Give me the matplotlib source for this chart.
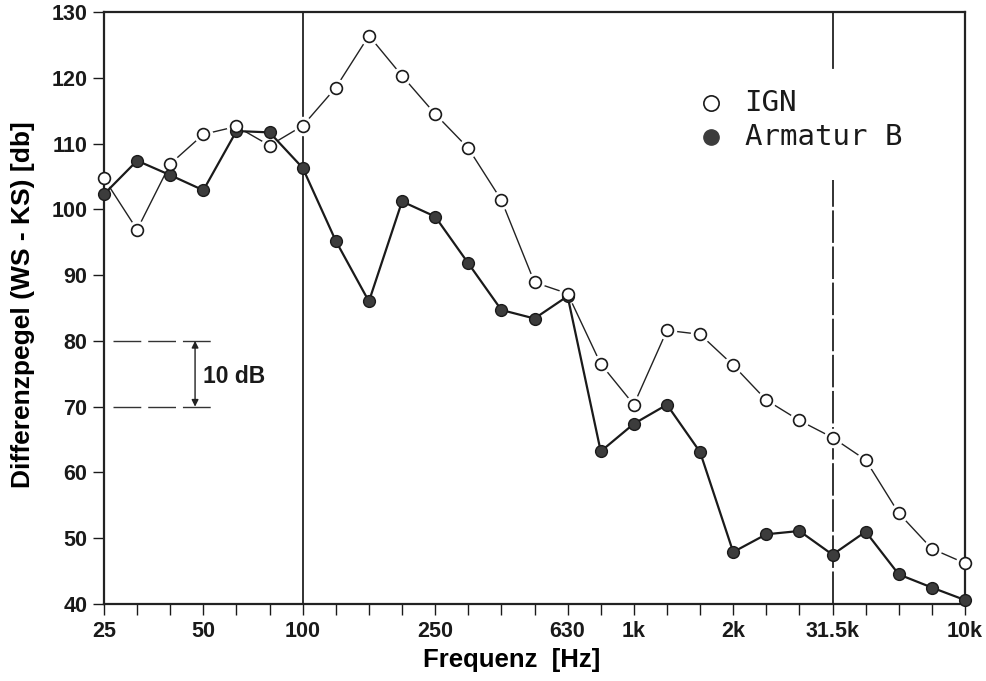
import numpy as np
import matplotlib
matplotlib.use("Agg")
import matplotlib.pyplot as plt

plt.rcParams["font.family"] = ["Liberation Sans", "DejaVu Sans"]

# third-octave bands, 25 Hz .. 10 kHz
bands = ["25", "31.5", "40", "50", "63", "80", "100", "125", "160", "200",
         "250", "315", "400", "500", "630", "800", "1k", "1.25k", "1.6k",
         "2k", "2.5k", "3.15k", "4k", "5k", "6.3k", "8k", "10k"]
ign = [104.7, 96.9, 106.9, 111.4, 112.6, 109.7, 112.7, 118.5, 126.4, 120.3,
       114.5, 109.3, 101.4, 88.9, 87.2, 76.5, 70.3, 81.6, 81.0, 76.3,
       71.0, 67.9, 65.3, 61.9, 53.8, 48.4, 46.2]
armatur = [102.3, 107.4, 105.2, 102.9, 111.9, 111.7, 106.3, 95.2, 86.0, 101.2,
           98.9, 91.8, 84.7, 83.4, 86.8, 63.2, 67.4, 70.3, 63.1, 47.9,
           50.6, 51.1, 47.5, 51.0, 44.5, 42.5, 40.6]
tick_idx = [0, 3, 6, 10, 14, 16, 19, 22, 26]
tick_lbl = ["25", "50", "100", "250", "630", "1k", "2k", "31.5k", "10k"]
y_ticks = [40, 50, 60, 70, 80, 90, 100, 110, 120, 130]

x = np.arange(len(bands))

fig = plt.figure(figsize=(9.86, 6.81), dpi=100)
ax = fig.add_axes([104/986, 1-604/681, 861/986, 592/681])

# reference lines
ax.axvline(6, color="#222", lw=1.3, zorder=1)
ax.plot([22, 22], [121.5, 130], color="#222", lw=1.3, zorder=1)
ax.plot([22, 22], [40, 104.5], color="#222", lw=1.3, dashes=(18, 2), zorder=1)

# IGN series (open circles, line stops short of the markers)
ax.plot(x, ign, color="#222", lw=1.0, zorder=2, clip_on=False)
ax.plot(x, ign, ls="none", marker="o", ms=13, mfc="white", mec="white",
        zorder=2.5, clip_on=False)
# Armatur B (filled)
ax.plot(x, armatur, color="#1a1a1a", lw=1.6, marker="o", ms=8.5,
        mfc="#3c3c3c", mec="#1a1a1a", mew=1.0, zorder=3, clip_on=False)
ax.plot(x, ign, ls="none", marker="o", ms=8.5, mfc="white", mec="#1a1a1a",
        mew=1.2, zorder=4, clip_on=False)

# 10 dB scale marker
for lvl in (80, 70):
    ax.plot([0.27, 3.23], [lvl, lvl], color="#333", lw=1.0, dashes=(20, 5))
ax.annotate("", xy=(2.75, 80), xytext=(2.75, 70),
            arrowprops=dict(arrowstyle="<|-|>", color="#222", lw=1.0,
                            mutation_scale=10, shrinkA=0, shrinkB=0))
ax.text(2.98, 74.6, "10 dB", fontsize=16.5, fontweight="bold", va="center",
        ha="left", color="#1a1a1a")

# legend
ax.plot([0.705], [0.846], transform=ax.transAxes, marker="o", ms=11,
        mfc="white", mec="#1a1a1a", mew=1.2, clip_on=False)
ax.plot([0.705], [0.789], transform=ax.transAxes, marker="o", ms=11,
        mfc="#3c3c3c", mec="#3c3c3c", clip_on=False)
ax.text(0.744, 0.846, "IGN", transform=ax.transAxes, fontsize=21,
        family="DejaVu Sans Mono", va="center", ha="left", color="#1a1a1a")
ax.text(0.744, 0.789, "Armatur B", transform=ax.transAxes, fontsize=21,
        family="DejaVu Sans Mono", va="center", ha="left", color="#1a1a1a")

ax.set_xlim(0, 26)
ax.set_ylim(40, 130)
ax.set_xticks(x)
ax.set_xticklabels([tick_lbl[tick_idx.index(i)] if i in tick_idx else ""
                    for i in x])
ax.set_yticks(y_ticks)
ax.tick_params(axis="both", direction="out", length=8, width=1.0,
               labelsize=15.5, pad=4, colors="#1a1a1a")
ax.tick_params(axis="x", pad=4)
for lab in ax.get_xticklabels() + ax.get_yticklabels():
    lab.set_fontweight("bold")
for sp in ax.spines.values():
    sp.set_linewidth(1.6)
    sp.set_color("#222")

ax.set_xlabel("Frequenz  [Hz]", fontsize=18.5, fontweight="bold")
ax.xaxis.set_label_coords(0.474, -0.095)
ax.xaxis.label.set_va("center")
ax.set_ylabel("Differenzpegel (WS - KS) [db]", fontsize=19, fontweight="bold")
ax.yaxis.set_label_coords(-0.094, 0.505)
ax.yaxis.label.set_va("center")

fig.savefig("out.png", dpi=100)
